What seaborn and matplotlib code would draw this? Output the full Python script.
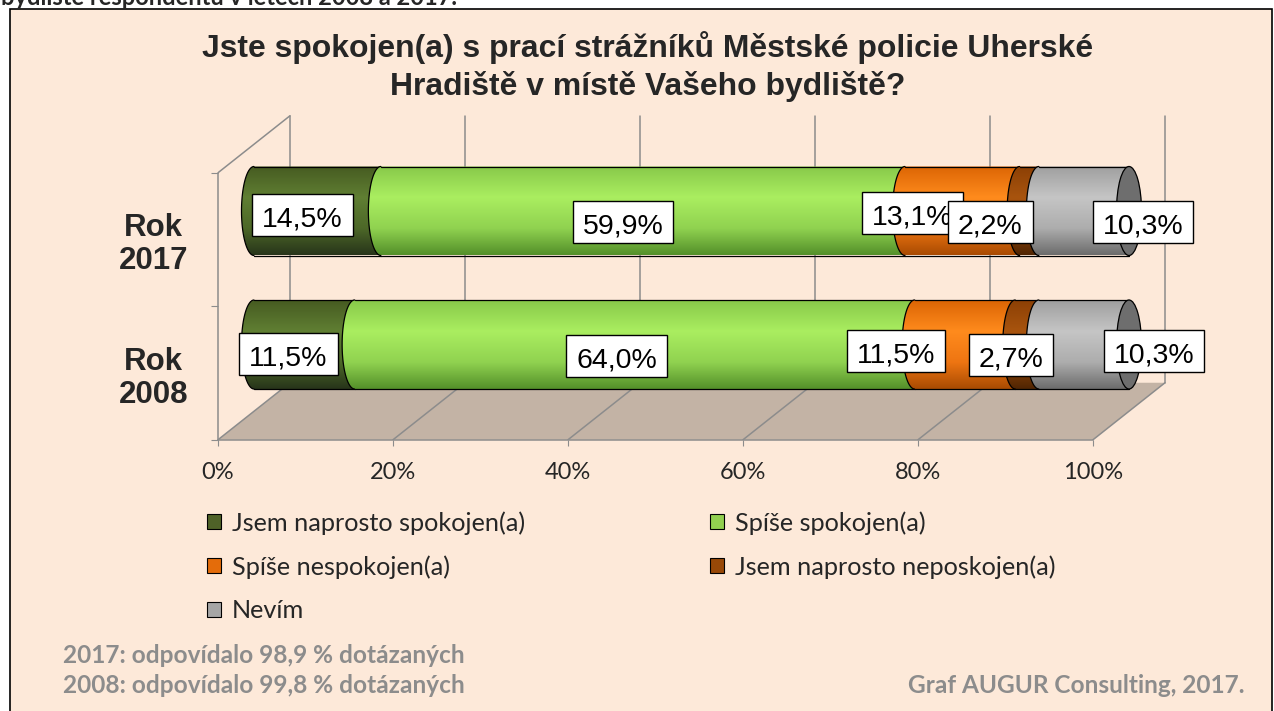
import numpy as np
import pandas as pd
import matplotlib
matplotlib.use("Agg")
import matplotlib.pyplot as plt
import seaborn as sns
from matplotlib.patches import Rectangle, Polygon, Ellipse, PathPatch, Patch
from matplotlib.path import Path
from matplotlib.colors import to_rgb

# ---------------- data ----------------
years = ["Rok\n2017", "Rok\n2008"]
categories = ["Jsem naprosto spokojen(a)", "Spíše spokojen(a)", "Spíše nespokojen(a)",
              "Jsem naprosto neposkojen(a)", "Nevím"]
values_2017 = [14.5, 59.9, 13.1, 2.2, 10.3]
values_2008 = [11.5, 64.0, 11.5, 2.7, 10.3]
xtick_values = [0, 20, 40, 60, 80, 100]
xtick_labels = ["0%", "20%", "40%", "60%", "80%", "100%"]
title_lines = ["Jste spokojen(a) s prací strážníků Městské policie Uherské",
               "Hradiště v místě Vašeho bydliště?"]
header_text = "bydliště respondentů v letech 2008 a 2017."
note_lines = ["2017: odpovídalo 98,9 % dotázaných", "2008: odpovídalo 99,8 % dotázaných"]
credit_text = "Graf AUGUR Consulting, 2017."

# ---------------- style ----------------
W, H, DPI = 1274, 711, 100
PEACH = "#fde9d9"
GRID = "#8c8c8c"
FLOOR = "#c3b3a5"
NOTE = "#8c8c8c"
base_colors = ["#4f6228", "#92d050", "#e46c0a", "#984807", "#a6a6a6"]
grad_colors = [
    ["#465b21", "#607f33", "#4d6828", "#27341a"],
    ["#88c94a", "#aaee60", "#90d250", "#54902a"],
    ["#dc6504", "#ff8b1d", "#ee7512", "#a94b02"],
    ["#8c4005", "#a8540e", "#904507", "#502503"],
    ["#9f9f9f", "#c5c5c5", "#adadad", "#6c6c6c"],
]
grad_pos = [0.0, 0.35, 0.7, 1.0]
CAP_COLOR = "#6e6e6e"
ARIAL = ["Liberation Sans", "DejaVu Sans"]
CALIBRI = ["Lato", "DejaVu Sans"]

# pixel geometry (layout only)
PX0, PPX = 254.0, 8.75      # pixel of x=0, pixels per percent
PY0, PPY = 211.0, 133.5     # pixel of first category centre, pixels per category
DX = 36 / PPX               # half depth, x
DY = 28.5 / PPY             # half depth, y
BAR_H = 89 / PPY
EW = 12.5 / PPX
X_MAX = 110
Y_TOP = -0.9

label_dx_px = [[-15, -20, -50, -39, 59], [-16, -18, -69, -16, 70]]
label_dy_px = [[4, 11, 2, 11, 11], [9.5, 11.5, 6.5, 10.5, 6.5]]

sns.set_theme(style="white")
plt.rcParams["font.family"] = ARIAL

fig = plt.figure(figsize=(W / DPI, H / DPI), dpi=DPI, facecolor="white")


def fx(px):
    return px / W


def fy(py):
    return 1 - py / H


n = len(years)
edge_lo, edge_hi = -0.5, n - 0.5
x_lo, y_lo = -DX, edge_hi + DY
left_px, right_px = PX0 + x_lo * PPX, PX0 + X_MAX * PPX
top_px, bot_px = PY0 + Y_TOP * PPY, PY0 + y_lo * PPY
ax = fig.add_axes([fx(left_px), fy(bot_px), (right_px - left_px) / W, (bot_px - top_px) / H])
ax.set_facecolor("none")

fig.add_artist(Rectangle((fx(9.5), fy(725)), fx(1271.5) - fx(9.5), fy(9.5) - fy(725),
                         transform=fig.transFigure, facecolor=PEACH, edgecolor="black",
                         linewidth=1.2, zorder=-5))

# ---------------- data frame ----------------
rows = []
for yr, vals in zip(years, [values_2017, values_2008]):
    cum = np.cumsum(vals)
    for cat, v, c in zip(categories, vals, cum):
        rows.append(dict(year=yr, category=cat, value=v, end=c, start=c - v))
df = pd.DataFrame(rows)

# stacked bars (base layer) through seaborn
for i in reversed(range(len(categories))):
    sub = df[df.category == categories[i]]
    sns.barplot(data=sub, x="end", y="year", order=years, orient="h", color=base_colors[i],
                saturation=1, width=BAR_H, errorbar=None, linewidth=0, ax=ax, zorder=2)

# ---------------- 3D frame ----------------
ax.add_patch(Polygon([(DX, edge_hi - DY), (100 + DX, edge_hi - DY), (100 - DX, edge_hi + DY),
                      (-DX, edge_hi + DY)], closed=True, facecolor=FLOOR, edgecolor="none", zorder=0.5))
for v in xtick_values:
    ax.plot([v + DX, v + DX], [edge_lo - DY, edge_hi - DY], color=GRID, lw=1.1, zorder=1)
    ax.plot([v + DX, v - DX], [edge_hi - DY, edge_hi + DY], color=GRID, lw=1.1, zorder=1)
ax.plot([DX, -DX], [edge_lo - DY, edge_lo + DY], color=GRID, lw=1.1, zorder=1)


# ---------------- cylinders ----------------
def make_grad(cols, npts=128):
    t = np.linspace(0, 1, npts)
    rgb = np.array([to_rgb(c) for c in cols])
    out = np.stack([np.interp(t, grad_pos, rgb[:, i]) for i in range(3)], axis=-1)
    return out[:, None, :]


th = np.linspace(0, np.pi, 60)
for j, yr in enumerate(years):
    sub = df[df.year == yr].reset_index(drop=True)
    top, bot = j - BAR_H / 2, j + BAR_H / 2
    for k, r in sub.iterrows():
        x0, x1 = r.start, r.end
        arc_x = x0 - EW * np.sin(th)
        arc_y = j - BAR_H / 2 * np.cos(th)
        verts = np.column_stack([arc_x, arc_y]).tolist() + [[x1, bot], [x1, top], [x0, top]]
        codes = [Path.MOVETO] + [Path.LINETO] * (len(verts) - 2) + [Path.CLOSEPOLY]
        clip = PathPatch(Path(verts, codes), transform=ax.transData, facecolor="none", edgecolor="none")
        z = 3 + 0.1 * k
        im = ax.imshow(make_grad(grad_colors[k]), extent=[x0 - EW, x1, bot, top], aspect="auto",
                       interpolation="bilinear", origin="upper", zorder=z)
        im.set_clip_path(clip)
        ax.plot(arc_x, arc_y, color="black", lw=0.9, zorder=z + 0.05)
        ax.plot([x0, x1], [top, top], color="black", lw=0.9, zorder=z + 0.05)
        ax.plot([x0, x1], [bot, bot], color="black", lw=0.9, zorder=z + 0.05)
    ax.add_patch(Ellipse((sub.end.iloc[-1], j), 2 * EW, BAR_H, facecolor=CAP_COLOR,
                         edgecolor="black", lw=0.9, zorder=4))

# ---------------- axes ----------------
ax.set_xlim(x_lo, X_MAX)
ax.set_ylim(y_lo, Y_TOP)
ax.set_xlabel("")
ax.set_ylabel("")
for s in ["top", "right"]:
    ax.spines[s].set_visible(False)
for s in ["left", "bottom"]:
    ax.spines[s].set_color(GRID)
    ax.spines[s].set_linewidth(1.1)
ax.spines["left"].set_bounds(edge_lo + DY, edge_hi + DY)
ax.spines["bottom"].set_bounds(-DX, 100 - DX)

ax.set_xticks([v - DX for v in xtick_values], xtick_labels)
ax.tick_params(axis="x", length=4.3, width=0.8, color=GRID, pad=12, labelsize=17, bottom=True)
for lbl in ax.get_xticklabels():
    lbl.set_fontfamily(CALIBRI)
ax.set_yticks([e + DY for e in np.arange(edge_lo, edge_hi + 0.01, 1.0)], [""] * (n + 1))
ax.set_yticks([j + DY for j in range(n)], years, minor=True)
ax.tick_params(axis="y", which="major", length=5, width=0.8, color=GRID, left=True)
ax.tick_params(axis="y", which="minor", length=0, pad=21.6, labelsize=22.5, left=True)
for lbl in ax.get_yticklabels(minor=True):
    lbl.set_fontweight("bold")
    lbl.set_multialignment("center")
    lbl.set_linespacing(1.15)

# ---------------- texts ----------------
renderer = fig.canvas.get_renderer()


def fit(t, target_px):
    w = t.get_window_extent(renderer).width
    t.set_fontsize(t.get_fontsize() * target_px / w)


t1 = fig.text(fx(648), fy(57), title_lines[0], ha="center", va="baseline", fontsize=19.5,
              fontweight="bold", family=ARIAL)
fit(t1, 890)
t2 = fig.text(fx(648), fy(95), title_lines[1], ha="center", va="baseline",
              fontsize=t1.get_fontsize(), fontweight="bold", family=ARIAL)

th_txt = fig.text(fx(1), fy(5), header_text, ha="left", va="baseline", fontsize=16,
                  fontweight="bold", family=CALIBRI)
fit(th_txt, 457)

n1 = fig.text(fx(63), fy(663), note_lines[0], ha="left", va="baseline", fontsize=14,
              fontweight="bold", family=CALIBRI, color=NOTE)
fit(n1, 402)
n2 = fig.text(fx(63), fy(693), note_lines[1], ha="left", va="baseline", fontsize=n1.get_fontsize(),
              fontweight="bold", family=CALIBRI, color=NOTE)
cr = fig.text(fx(1245), fy(693), credit_text, ha="right", va="baseline", fontsize=n1.get_fontsize(),
              fontweight="bold", family=CALIBRI, color=NOTE)

# data labels with white boxes
label_texts = []
idx = 0
for j, yr in enumerate(years):
    sub = df[df.year == yr].reset_index(drop=True)
    for k, r in sub.iterrows():
        cx = (r.start + r.end) / 2 + label_dx_px[j][k] / PPX
        cy = j + label_dy_px[j][k] / PPY
        s = f"{r.value:.1f}".replace(".", ",") + "%"
        t = ax.text(cx, cy + 4.5 / PPY, s, ha="center", va="center", fontsize=20.5, family=ARIAL,
                    color="black", zorder=6.1 + 0.2 * idx, clip_on=False)
        label_texts.append((t, cx, cy, idx))
        idx += 1

# ---------------- legend ----------------
order = [0, 2, 4, 1, 3]
leg_handles = [Patch(facecolor=base_colors[i], edgecolor="black", linewidth=0.8) for i in order]
leg_labels = [categories[i] for i in order]


def make_legend(size, colsp, labsp, anchor):
    return ax.legend(leg_handles, leg_labels, ncol=2, loc="upper left", bbox_to_anchor=anchor,
                     bbox_transform=fig.transFigure, frameon=False, borderpad=0, borderaxespad=0,
                     handletextpad=0.45, handlelength=0.55, handleheight=0.55,
                     prop={"family": CALIBRI, "size": size}, columnspacing=colsp, labelspacing=labsp)


size, colsp, labsp = 17.0, 7.9, 0.75
anchor = [fx(208), fy(506)]
for _ in range(4):
    leg = make_legend(size, colsp, labsp, tuple(anchor))
    fig.canvas.draw()
    txts = leg.get_texts()
    b0 = txts[0].get_window_extent(renderer)
    b1 = txts[1].get_window_extent(renderer)
    hb = leg.legend_handles[3].get_window_extent(renderer)
    spx = size * DPI / 72
    size *= 293 / b0.width
    labsp += (44 - ((b0.y0 + b0.y1) / 2 - (b1.y0 + b1.y1) / 2)) / spx
    colsp += (710 - hb.x0) / spx
    anchor[0] += (232 - b0.x0) / W
    anchor[1] += ((H - 523) - (b0.y0 + b0.y1) / 2) / H
leg = make_legend(size, colsp, labsp, tuple(anchor))
fig.canvas.draw()

for t, cx, cy, i in label_texts:
    bb = t.get_window_extent(renderer)
    wd = (bb.width + 20) / PPX
    hd = 42 / PPY
    ax.add_patch(Rectangle((cx - wd / 2, cy - hd / 2), wd, hd, facecolor="white", edgecolor="black",
                           lw=1.0, zorder=6.0 + 0.2 * i, clip_on=False))

fig.savefig("out.png", dpi=DPI, facecolor="white")
